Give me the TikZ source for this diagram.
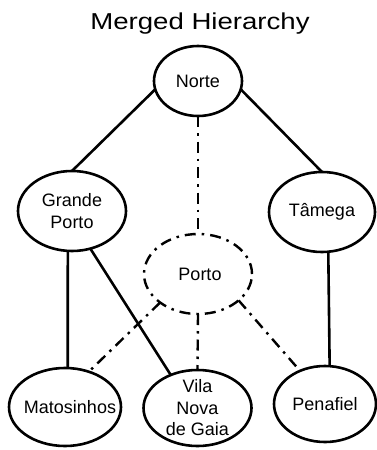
\documentclass[tikz,border=0pt]{standalone}
\usepackage{fontspec}
\setmainfont{Liberation Sans}
\newfontfamily\titlefont[FakeStretch=1.2]{Liberation Sans}
\usetikzlibrary{shapes.geometric}
\tikzset{
  ell/.style={draw, ellipse, line width=2.6pt, inner sep=0pt, outer sep=0pt},
  dell/.style={ell, line width=2.4pt, dash pattern=on 11pt off 6pt on 2.5pt off 6pt},
  lbl/.style={align=center, inner sep=0pt, font=\fontsize{18}{21.5}\selectfont},
  link/.style={line width=2.6pt},
  dlink/.style={line width=2.4pt, dash pattern=on 11pt off 6pt on 2.5pt off 6pt}
}
\begin{document}
\begin{tikzpicture}[x=1pt, y=-1pt]
\useasboundingbox (0,0) rectangle (377,450);
\node[inner sep=0pt, anchor=base, font=\titlefont\fontsize{23}{27}\selectfont] (title) at (200,29) {Merged Hierarchy};

\node[ell, minimum width=88pt, minimum height=70pt] (norte) at (198,81) {};
\node[ell, minimum width=108pt, minimum height=80pt] (gp) at (72,211) {};
\node[ell, minimum width=106pt, minimum height=80pt] (tam) at (322,212) {};
\node[dell, minimum width=108pt, minimum height=80pt] (porto) at (198,274) {};
\node[ell, minimum width=112pt, minimum height=78pt] (mat) at (65,407) {};
\node[ell, minimum width=108pt, minimum height=76pt] (vila) at (197.5,408) {};
\node[ell, minimum width=102pt, minimum height=76pt] (pen) at (325,404) {};

\node[lbl] (norte-t) at (198,81) {Norte};
\node[lbl] (gp-t) at (72,211) {Grande\\Porto};
\node[lbl] (tam-t) at (322,212) {Tâmega};
\node[lbl] (porto-t) at (200,274) {Porto};
\node[lbl] (mat-t) at (70,407) {Matosinhos};
\node[lbl] (vila-t) at (197.5,408) {Vila\\Nova\\de Gaia};
\node[lbl] (pen-t) at (325,404) {Penafiel};

\draw[link] (norte.191) -- (gp.north);
\draw[link] (norte.349) -- (tam.north);
\draw[dlink] (norte.south) -- (porto.north);
\draw[link] (gp.264) -- (mat.86);
\draw[link] (gp.296) -- (vila.129);
\draw[link] (tam.279) -- (pen.83);
\draw[dlink] (porto.217) -- (mat.56);
\draw[dlink] (porto.south) -- (vila.north);
\draw[dlink] (porto.327) -- (pen.127);
\end{tikzpicture}
\end{document}
